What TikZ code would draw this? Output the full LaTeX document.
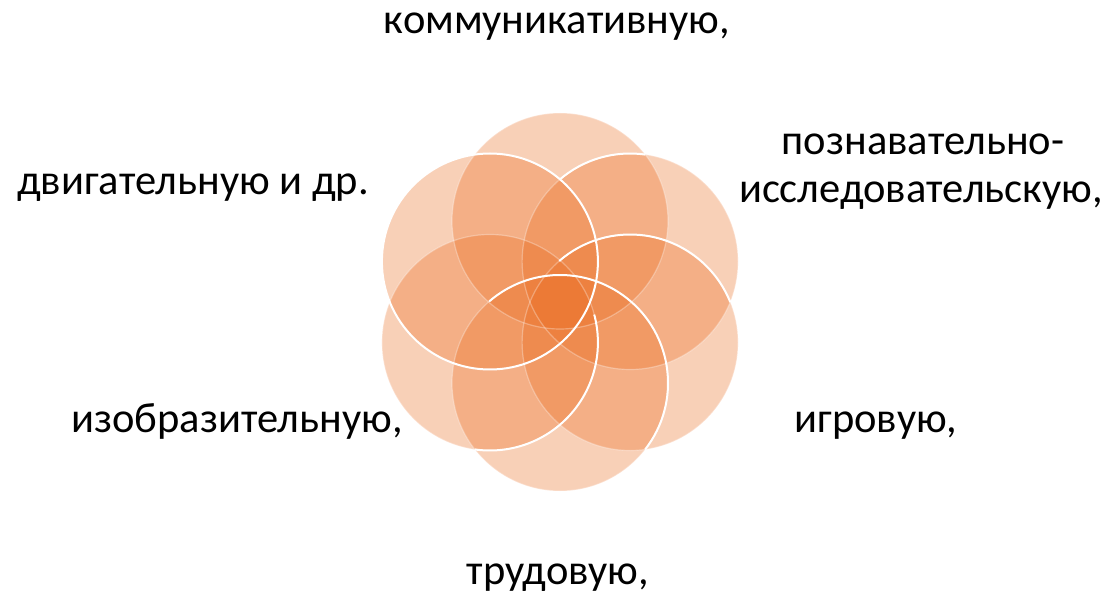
\documentclass[tikz,border=0pt]{standalone}
\usepackage{fontspec}
\setmainfont{Carlito}
\definecolor{petalorange}{RGB}{234,108,32}
\begin{document}
\begin{tikzpicture}[x=1pt,y=1pt,
  petal/.style={fill=petalorange, fill opacity=0.32},
  faintrim/.style={draw=white, draw opacity=0.3, line width=1.2pt},
  rim/.style={draw=white, line width=2pt},
  label/.style={anchor=base, inner sep=0pt, font=\fontsize{42.5}{50}\selectfont}]
\useasboundingbox (0,0) rectangle (1106,595);
% circle centres
\coordinate (cT)  at (560,374);
\coordinate (cUR) at (630.1,333.5);
\coordinate (cLR) at (630.1,252.5);
\coordinate (cB)  at (560,212);
\coordinate (cLL) at (489.9,252.5);
\coordinate (cUL) at (489.9,333.5);
% fills
\foreach \c in {cT,cUR,cLR,cB,cLL,cUL}{
  \fill[petal] (\c) circle[radius=108];
}
% faint outlines
\foreach \c in {cT,cUR,cLR,cB,cLL}{
  \draw[faintrim] (\c) circle[radius=108];
}
% bright outlines
\draw[rim] ([shift={(82:108)}]cUR) arc[start angle=82, end angle=130.5, radius=108];
\draw[rim] ([shift={(22:108)}]cLR) arc[start angle=22, end angle=131, radius=108];
\draw[rim] ([shift={(-38:108)}]cB) arc[start angle=-38, end angle=131, radius=108];
\draw[rim] ([shift={(-98:108)}]cLL) arc[start angle=-98, end angle=15, radius=108];
\draw[rim] (cUL) circle[radius=108];
% labels
\node[label] (komm) at (557,561) {коммуникативную,};
\node[label] (pozn) at (923,440) {познавательно-};
\node[label] (issl) at (921,392) {исследовательскую,};
\node[label] (dvig) at (193,400) {двигательную и др.};
\node[label] (izob) at (237,163) {изобразительную,};
\node[label] (igro) at (876,163) {игровую,};
\node[label] (trud) at (558,11) {трудовую,};
\end{tikzpicture}
\end{document}
